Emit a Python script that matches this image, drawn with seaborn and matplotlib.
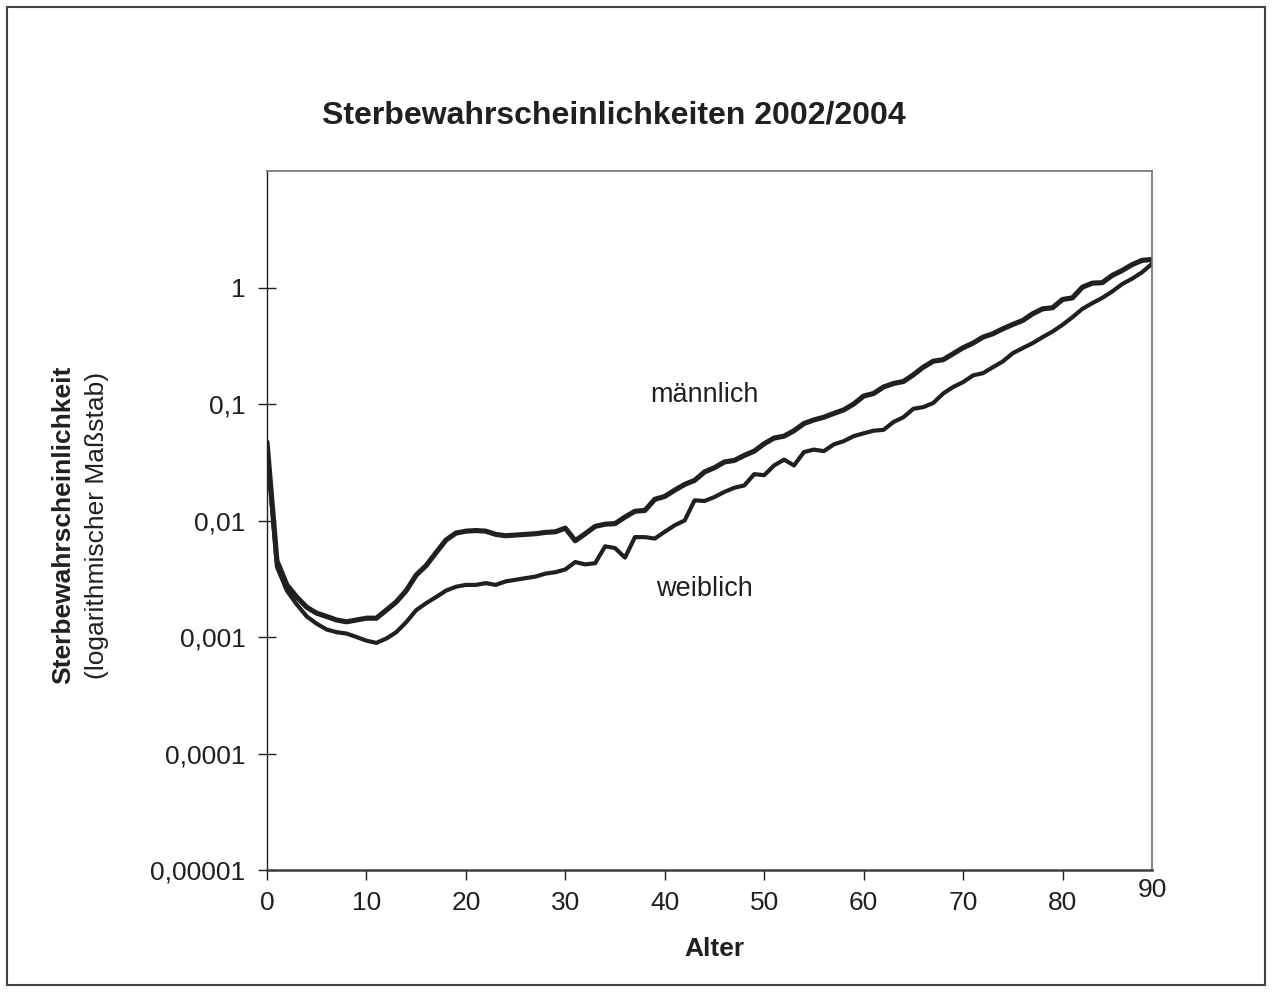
"""
Sterbewahrscheinlichkeiten 2002/2004 - log. Darstellung nach Alter
"""

import matplotlib
matplotlib.use('Agg')
import matplotlib.pyplot as plt
from matplotlib.patches import Rectangle
from matplotlib.ticker import NullLocator
import numpy as np
import pandas as pd
import seaborn as sns

# Alter 0 bis 89
alter = list(range(90))

maennlich = [
    0.047, 0.0045, 0.0028, 0.0022, 0.0018, 0.0016, 0.0015, 0.0014, 0.00135, 0.0014,
    0.00145, 0.00145, 0.0017, 0.0020, 0.0025, 0.0034, 0.0041, 0.0053, 0.0068, 0.0078,
    0.0081, 0.0082, 0.0081, 0.0076, 0.0074, 0.0075, 0.0076, 0.0077, 0.0079, 0.0080,
    0.0086, 0.0067, 0.0077, 0.0089, 0.0093, 0.0094, 0.0107, 0.0120, 0.0122, 0.0152,
    0.0161, 0.0182, 0.0204, 0.0221, 0.0261, 0.0284, 0.0318, 0.0328, 0.0362, 0.0394,
    0.0456, 0.051, 0.053, 0.059, 0.068, 0.073, 0.077, 0.083, 0.089, 0.100,
    0.117, 0.123, 0.140, 0.150, 0.156, 0.178, 0.207, 0.233, 0.240, 0.270,
    0.304, 0.333, 0.375, 0.401, 0.442, 0.482, 0.521, 0.595, 0.656, 0.670,
    0.789, 0.815, 1.006, 1.09, 1.10, 1.27, 1.40, 1.57, 1.71, 1.74,
]

weiblich = [
    0.042, 0.0040, 0.0025, 0.0019, 0.0015, 0.0013, 0.00116, 0.0011, 0.00107, 0.0010,
    0.00093, 0.00089, 0.00097, 0.0011, 0.00134, 0.0017, 0.00195, 0.0022, 0.0025, 0.0027,
    0.0028, 0.0028, 0.0029, 0.0028, 0.0030, 0.0031, 0.0032, 0.0033, 0.0035, 0.0036,
    0.0038, 0.0044, 0.0042, 0.0043, 0.0060, 0.0058, 0.0048, 0.0072, 0.0072, 0.0070,
    0.0080, 0.0091, 0.0100, 0.0149, 0.0147, 0.0159, 0.0176, 0.0191, 0.0200, 0.0250,
    0.0245, 0.0297, 0.0333, 0.0297, 0.0387, 0.0406, 0.0394, 0.045, 0.048, 0.053,
    0.056, 0.059, 0.060, 0.070, 0.077, 0.091, 0.094, 0.102, 0.123, 0.140,
    0.154, 0.176, 0.184, 0.207, 0.232, 0.273, 0.302, 0.333, 0.375, 0.419,
    0.478, 0.556, 0.656, 0.734, 0.815, 0.924, 1.07, 1.19, 1.35, 1.60,
]

y_ticks = [1e-5, 1e-4, 1e-3, 1e-2, 1e-1, 1]
y_ticklabels = ['0,00001', '0,0001', '0,001', '0,01', '0,1', '1']
x_ticks = [0, 10, 20, 30, 40, 50, 60, 70, 80]

sns.set_style('white')
plt.rcParams['font.family'] = ['Liberation Sans', 'DejaVu Sans']

df = pd.DataFrame({'Alter': alter, 'männlich': maennlich, 'weiblich': weiblich})

farbe = '#231f20'
fig = plt.figure(figsize=(12.83, 10.05), dpi=100)
ax = fig.add_axes([267 / 1283, 1 - 870 / 1005, (1152 - 267) / 1283, (870 - 171) / 1005])

sns.lineplot(data=df, x='Alter', y='männlich', ax=ax, color=farbe, linewidth=3.7)
sns.lineplot(data=df, x='Alter', y='weiblich', ax=ax, color=farbe, linewidth=3.0)

ax.set_yscale('log')
ax.set_ylim(1e-5, 10)
ax.set_xlim(0, 89)
ax.set_yticks(y_ticks)
ax.set_yticklabels(y_ticklabels)
ax.yaxis.set_minor_locator(NullLocator())
ax.set_xticks(x_ticks)
ax.set_xticklabels([str(t) for t in x_ticks])
ax.set_xlabel('')
ax.set_ylabel('')

ax.tick_params(axis='y', direction='inout', length=13, width=1, pad=9,
               labelsize=19, colors=farbe, left=True)
ax.tick_params(axis='x', direction='out', length=7, width=1, pad=8,
               labelsize=19, colors=farbe, bottom=True)

for s in ['left']:
    ax.spines[s].set_color(farbe)
    ax.spines[s].set_linewidth(1.0)
ax.spines['bottom'].set_color('#404040')
ax.spines['bottom'].set_linewidth(1.8)
for s in ['top', 'right']:
    ax.spines[s].set_color('#707070')
    ax.spines[s].set_linewidth(1.2)

# letzte Beschriftung "90" am rechten Rand
ax.text(89, -0.011, '90', transform=ax.get_xaxis_transform(), ha='center', va='top',
        fontsize=19, color=farbe)

ax.text(44, 0.1186, 'männlich', ha='center', va='center', fontsize=19.5, color=farbe)
ax.text(44, 0.00257, 'weiblich', ha='center', va='center', fontsize=19.5, color=farbe)

fig.text(614 / 1283, 1 - 115 / 1005, 'Sterbewahrscheinlichkeiten 2002/2004',
         ha='center', va='center', fontsize=23, fontweight='bold', color=farbe)
fig.text(714 / 1283, 1 - 949 / 1005, 'Alter', ha='center', va='center',
         fontsize=19, fontweight='bold', color=farbe)
fig.text(63 / 1283, 1 - 525 / 1005, 'Sterbewahrscheinlichkeit', rotation=90,
         ha='center', va='center', fontsize=19, fontweight='bold', color=farbe)
fig.text(97 / 1283, 1 - 525 / 1005, '(logarithmischer Maßstab)', rotation=90,
         ha='center', va='center', fontsize=19, color=farbe)

# Rahmen um die ganze Grafik
fig.patches.append(Rectangle((7 / 1283, 1 - 985 / 1005), (1265 - 7) / 1283, (985 - 7) / 1005,
                             transform=fig.transFigure, fill=False,
                             edgecolor='#404040', linewidth=1.5))

fig.savefig('out.png', dpi=100, facecolor='white')
plt.close(fig)
